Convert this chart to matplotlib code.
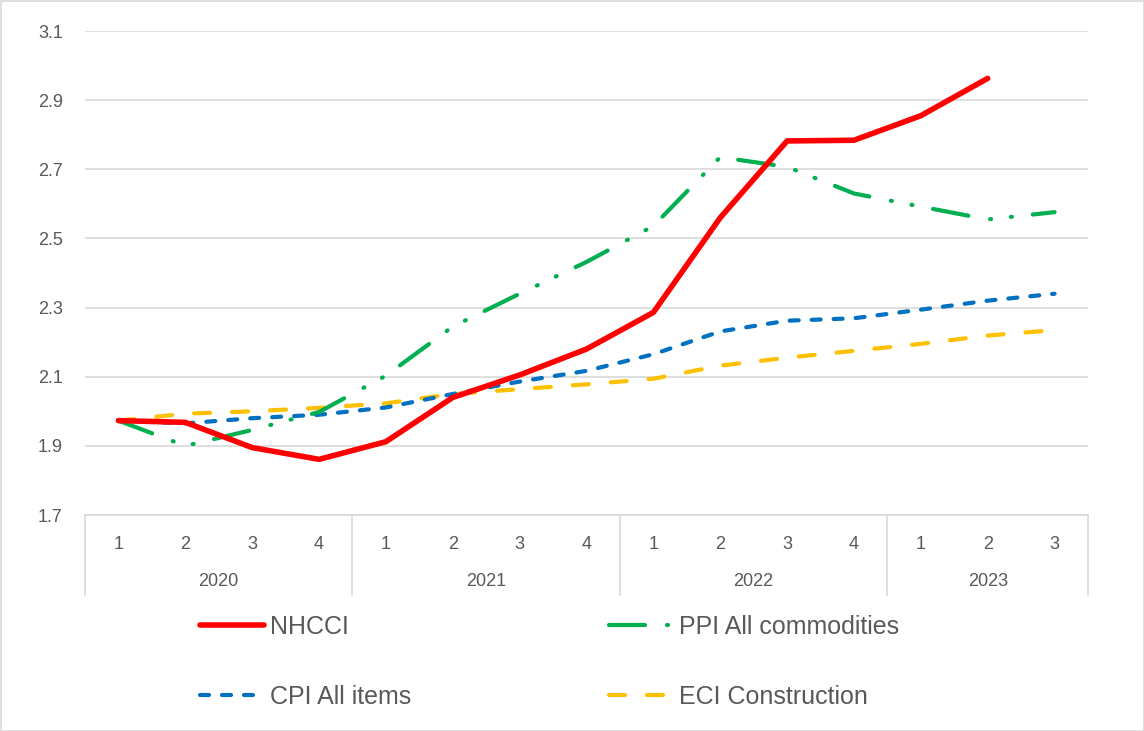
import matplotlib
matplotlib.use("Agg")
import matplotlib.pyplot as plt
from matplotlib.lines import Line2D
from matplotlib.patches import Rectangle

plt.rcParams['font.family'] = ['Liberation Sans', 'DejaVu Sans']
plt.rcParams['lines.scale_dashes'] = False

# ---- data ----
years = ["2020", "2021", "2022", "2023"]
quarters = ["1", "2", "3", "4", "1", "2", "3", "4", "1", "2", "3", "4", "1", "2", "3"]
quarters_per_year = [4, 4, 4, 3]

nhcci = [1.973, 1.968, 1.895, 1.861, 1.912, 2.04, 2.105, 2.18, 2.286, 2.56, 2.782, 2.784, 2.855, 2.963, None]
ppi = [1.973, 1.90, 1.946, 1.998, 2.103, 2.245, 2.34, 2.432, 2.536, 2.735, 2.707, 2.63, 2.592, 2.555, 2.576]
cpi = [1.973, 1.965, 1.98, 1.99, 2.011, 2.05, 2.086, 2.117, 2.165, 2.231, 2.262, 2.269, 2.294, 2.32, 2.34]
eci = [1.973, 1.993, 2.0, 2.01, 2.023, 2.05, 2.064, 2.078, 2.094, 2.132, 2.155, 2.175, 2.195, 2.219, 2.235]

series_labels = ["NHCCI", "PPI All commodities", "CPI All items", "ECI Construction"]
yticks = [1.7, 1.9, 2.1, 2.3, 2.5, 2.7, 2.9, 3.1]

W, H = 1144, 731
fig = plt.figure(figsize=(W / 100, H / 100), dpi=100)
ax = fig.add_axes([85 / W, 1 - 515 / H, (1088 - 85) / W, (515 - 31) / H])

x = list(range(len(quarters)))
nh = [(i, v) for i, v in zip(x, nhcci) if v is not None]

px = 0.72  # points per pixel
l1, = ax.plot([p[0] for p in nh], [p[1] for p in nh], color="#FF0000", lw=4.0,
              solid_capstyle="round", solid_joinstyle="round", zorder=5)
l2, = ax.plot(x, ppi, color="#00B050", lw=3.0, dash_capstyle="round",
              dashes=(36 * px, 22 * px, 1 * px, 20 * px, 1 * px, 21 * px), zorder=4)
l3, = ax.plot(x, cpi, color="#0070C0", lw=3.0, dash_capstyle="round",
              dashes=(9 * px, 13 * px), zorder=3)
l4, = ax.plot(x, eci, color="#FFC000", lw=3.0, dash_capstyle="round",
              dashes=(16 * px, 22 * px), zorder=2)

ax.set_xlim(-0.5, len(quarters) - 0.5)
ax.set_ylim(1.7, 3.1)
ax.set_yticks(yticks)
ax.set_yticklabels([f"{t:.1f}" for t in yticks])
ax.yaxis.grid(True, color="#D9D9D9", lw=1.2)
ax.set_axisbelow(True)
for s in ["left", "right", "top"]:
    ax.spines[s].set_visible(False)
ax.spines["bottom"].set_color("#D9D9D9")
ax.spines["bottom"].set_linewidth(1.2)
ax.tick_params(axis="y", length=0, pad=16, labelsize=13, labelcolor="#595959")
ax.set_xticks(x)
ax.set_xticklabels(quarters)
ax.tick_params(axis="x", length=0, pad=15, labelsize=13, labelcolor="#595959")

# group separators and year labels
trans = ax.get_xaxis_transform()
depth = 80 / (515 - 31)
bounds = [-0.5]
for n in quarters_per_year:
    bounds.append(bounds[-1] + n)
for b in bounds:
    ax.add_line(Line2D([b, b], [0, -depth], transform=trans, color="#D9D9D9",
                       lw=1.2, clip_on=False))
for i, yr in enumerate(years):
    ax.text((bounds[i] + bounds[i + 1]) / 2, -66 / 484, yr, transform=trans,
            ha="center", va="center", fontsize=13, color="#595959")

leg = fig.legend([l1, l3, l2, l4], [series_labels[0], series_labels[2], series_labels[1], series_labels[3]],
                 ncol=2, loc="upper left", bbox_to_anchor=(200 / W, 1 - 615 / H),
                 frameon=False, fontsize=18, handlelength=2.55, handletextpad=0.25,
                 columnspacing=7.9, labelspacing=1.82, labelcolor="#595959",
                 borderpad=0, borderaxespad=0)

fig.add_artist(Rectangle((0.5 / W, 0.5 / H), 1 - 1 / W, 1 - 1 / H, transform=fig.transFigure,
                         fill=False, edgecolor="#D9D9D9", lw=1.2))

fig.savefig("out.png", dpi=100, facecolor="white")
